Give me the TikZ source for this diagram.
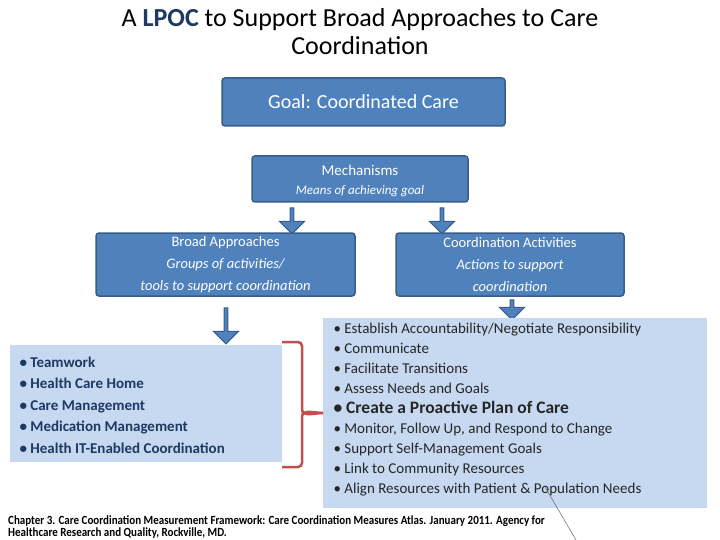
\documentclass[tikz,border=0pt]{standalone}
\usepackage{fontspec}
\setmainfont{Carlito}
\usetikzlibrary{shapes.arrows}
\definecolor{dblue}{HTML}{4F81BD}
\definecolor{bord}{HTML}{385D8A}
\definecolor{lblue}{HTML}{C6D9F1}
\definecolor{tblue}{HTML}{1F3864}
\definecolor{bred}{HTML}{C0504D}
\tikzset{
 bluebox/.style={draw=bord,line width=1.5pt,fill=dblue,rounded corners=3pt,text=white,align=center,inner sep=0pt},
 listbox/.style={fill=lblue,inner sep=0pt},
 darrow/.style={single arrow,shape border rotate=270,fill=dblue,draw=bord,line width=1pt,minimum width=25pt,single arrow head extend=3pt,inner sep=0pt},
}
\begin{document}
\begin{tikzpicture}[x=1pt,y=-1pt]
\useasboundingbox (0,0) rectangle (720,540);
\node[font=\fontsize{26}{28}\selectfont,align=center] (title) at (360,32) {A \textbf{\color{tblue}LPOC} to Support Broad Approaches to Care\\Coordination};
\node[bluebox,minimum width=283pt,minimum height=48pt,font=\fontsize{20}{22}\selectfont] (goal) at (363.5,102) {Goal: Coordinated Care};
\node[bluebox,minimum width=216pt,minimum height=46pt] (mech) at (360,179) {};
\node[text=white,font=\fontsize{15}{17}\selectfont] (mt) at (360,170) {Mechanisms};
\node[text=white,font=\fontsize{13}{15}\selectfont\itshape] (ms) at (360,191) {Means of achieving goal};
\node[darrow,minimum height=26pt] (a1) at (292,220) {};
\node[darrow,minimum height=26pt] (a2) at (442,220) {};
\node[bluebox,minimum width=259pt,minimum height=63pt,font=\fontsize{14.5}{22}\selectfont] (broad) at (225.5,264.5) {Broad Approaches\\\itshape Groups of activities/\\\itshape tools to support coordination};
\node[bluebox,minimum width=228pt,minimum height=63pt,font=\fontsize{14.5}{22}\selectfont] (coord) at (510,264.5) {Coordination Activities\\\itshape Actions to support\\\itshape coordination};
\node[darrow,minimum height=36pt] (a3) at (226,325) {};
\node[darrow,minimum height=20pt] (a4) at (512,309) {};
\node[listbox,minimum width=272pt,minimum height=117pt] (left) at (146,403.5) {};
\node[anchor=west,align=left,text=tblue,font=\fontsize{15}{21.6}\selectfont\bfseries] (lt) at (16,405) {• Teamwork\\• Health Care Home\\• Care Management\\• Medication Management\\• Health IT-Enabled Coordination};
\node[listbox,minimum width=384pt,minimum height=190pt] (right) at (515,413) {};
\node[anchor=north west,align=left,font=\fontsize{15}{20}\selectfont,text=black!85] (rt) at (330,320) {• Establish Accountability/Negotiate Responsibility\\• Communicate\\• Facilitate Transitions\\• Assess Needs and Goals\\{\fontsize{17.5}{20}\selectfont\bfseries • Create a Proactive Plan of Care}\\• Monitor, Follow Up, and Respond to Change\\• Support Self-Management Goals\\• Link to Community Resources\\• Align Resources with Patient \& Population Needs};
\coordinate (bt) at (282,342);
\coordinate (bb) at (282,467);
\coordinate (btip) at (323,413);
\draw[bred,line width=2.5pt] (bt) -- (298,342) to[out=0,in=90] (302,346) -- (302,409) to[out=270,in=180] (btip);
\draw[bred,line width=2.5pt] (bb) -- (298,467) to[out=0,in=270] (302,463) -- (302,417) to[out=90,in=180] (btip);
\node[anchor=north west,align=left,font=\fontsize{12.5}{12}\selectfont\bfseries,inner sep=0pt] (foot) at (8,516) {\addfontfeatures{FakeStretch=0.88}Chapter 3. Care Coordination Measurement Framework: Care Coordination Measures Atlas. January 2011. Agency for\\\addfontfeatures{FakeStretch=0.88}Healthcare Research and Quality, Rockville, MD.};
\coordinate (l1) at (545,487);
\coordinate (l2) at (576,540);
\draw[black!60,line width=0.5pt] (l1) -- (l2);
\end{tikzpicture}
\end{document}
